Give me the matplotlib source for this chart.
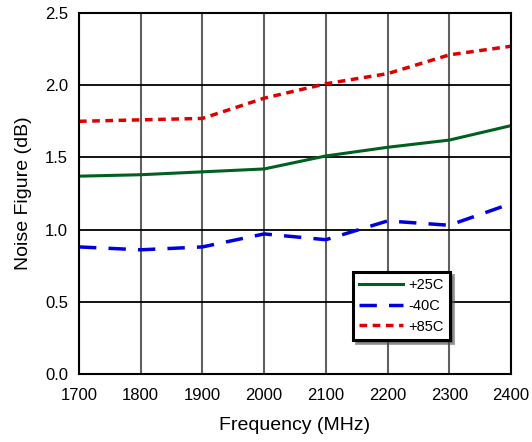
import matplotlib
matplotlib.use("Agg")
import matplotlib.pyplot as plt

plt.rcParams['font.family'] = ['Liberation Sans', 'DejaVu Sans']

freq = [1700, 1800, 1900, 2000, 2100, 2200, 2300, 2400]
nf_25 = [1.37, 1.38, 1.40, 1.42, 1.51, 1.57, 1.62, 1.72]
nf_m40 = [0.88, 0.86, 0.88, 0.97, 0.93, 1.06, 1.03, 1.18]
nf_85 = [1.75, 1.76, 1.77, 1.91, 2.01, 2.08, 2.21, 2.27]

fig = plt.figure(figsize=(5.32, 4.42), dpi=100)
ax = fig.add_axes([79 / 532, 68 / 442, 432 / 532, 361 / 442])

ax.plot(freq, nf_25, color='#006020', lw=2.2, label='+25C')
ax.plot(freq, nf_m40, color='#0000dd', lw=2.5, dashes=(5, 3.5), label='-40C')
ax.plot(freq, nf_85, color='#dd0000', lw=2.5, dashes=(2.2, 1.6), label='+85C')

ax.set_xlim(1700, 2400)
ax.set_ylim(0, 2.5)
ax.set_xticks(freq)
ax.set_yticks([0, 0.5, 1.0, 1.5, 2.0, 2.5])
ax.set_yticklabels(['0.0', '0.5', '1.0', '1.5', '2.0', '2.5'])
ax.tick_params(length=0, labelsize=12)
ax.tick_params(axis='x', pad=10)
ax.tick_params(axis='y', pad=8)
ax.grid(axis='y', color='black', lw=1.3)
ax.grid(axis='x', color='#606060', lw=1.5)
ax.set_axisbelow(True)
for s in ax.spines.values():
    s.set_linewidth(1.5)

ax.set_xlabel('Frequency (MHz)', fontsize=14, labelpad=10)
ax.set_ylabel('Noise Figure (dB)', fontsize=14, labelpad=9)

leg = ax.legend(loc='lower left', bbox_to_anchor=(0.634, 0.094), borderaxespad=0,
                fontsize=10.5, frameon=True, fancybox=False, shadow=True,
                handlelength=3.0, borderpad=0.45, labelspacing=0.45,
                handletextpad=0.35)
leg.get_frame().set_edgecolor('black')
leg.get_frame().set_linewidth(2.2)

fig.savefig('out.png', dpi=100)
